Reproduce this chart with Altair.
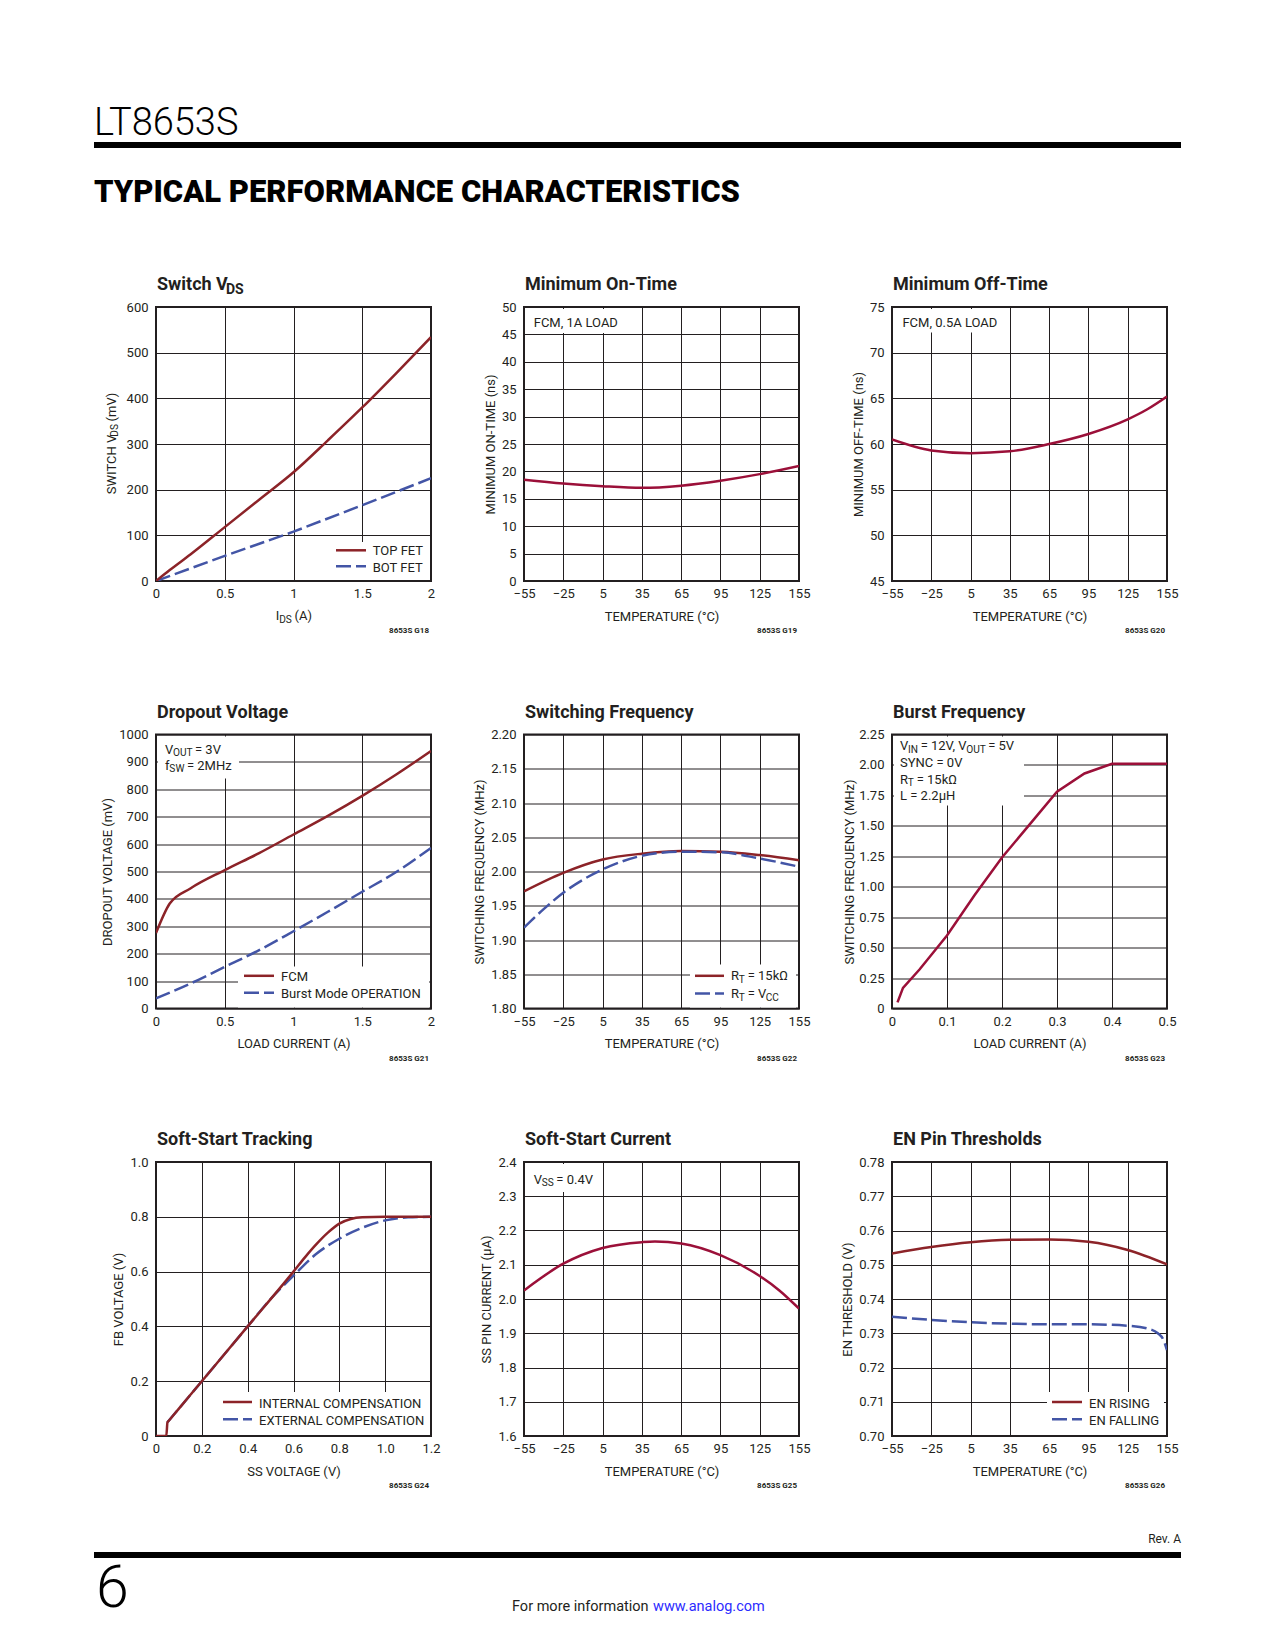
import altair as alt
import pandas as pd

FONT = "Roboto"
INK = "#231f20"
RED_A = "#8c2328"
RED_B = "#9b1039"
BLUE = "#4355a6"
LINK = "#2b2bff"
W, H = 275, 274
DASH = [15, 5]

# ---------------- data ----------------
TEMP_TICKS = [-55, -25, 5, 35, 65, 95, 125, 155]

# Switch VDS
vds_top_i = [0, 0.1, 0.25, 0.5, 0.75, 1.0, 1.25, 1.5, 1.75, 2.0]
vds_top = [0, 24, 58, 118, 178, 238, 308, 380, 456, 534]
vds_bot_i = [0, 0.5, 1.0, 1.5, 2.0]
vds_bot = [0, 55, 108, 166, 225]
vds_xticks = [0, 0.5, 1, 1.5, 2]
vds_yticks = [0, 100, 200, 300, 400, 500, 600]

# Minimum on-time
ton_t = [-55, -25, 5, 35, 65, 95, 125, 155]
ton = [18.5, 17.8, 17.3, 17.0, 17.4, 18.3, 19.5, 21.0]
ton_yticks = [0, 5, 10, 15, 20, 25, 30, 35, 40, 45, 50]

# Minimum off-time
toff_t = [-55, -25, 5, 35, 65, 95, 125, 140, 155]
toff = [60.5, 59.3, 59.0, 59.2, 60.0, 61.1, 62.7, 63.8, 65.2]
toff_yticks = [45, 50, 55, 60, 65, 70, 75]

# Dropout voltage
drop_fcm_i = [0, 0.1, 0.25, 0.5, 0.75, 1.0, 1.25, 1.5, 1.75, 2.0]
drop_fcm = [275, 383, 438, 505, 567, 635, 703, 776, 855, 940]
drop_burst_i = [0, 0.25, 0.5, 0.75, 1.0, 1.25, 1.5, 1.75, 2.0]
drop_burst = [37, 91, 152, 213, 282, 353, 426, 499, 586]
drop_yticks = [0, 100, 200, 300, 400, 500, 600, 700, 800, 900, 1000]

# Switching frequency
fsw_rt_t = [-55, -25, 5, 35, 65, 95, 125, 155]
fsw_rt = [1.971, 1.998, 2.0175, 2.026, 2.030, 2.029, 2.024, 2.0165]
fsw_vcc_t = [-55, -40, -25, -10, 5, 35, 65, 95, 125, 155]
fsw_vcc = [1.918, 1.945, 1.969, 1.988, 2.003, 2.023, 2.029, 2.028, 2.019, 2.007]
fsw_yticks = [1.80, 1.85, 1.90, 1.95, 2.00, 2.05, 2.10, 2.15, 2.20]

# Burst frequency
bf_i = [0.01, 0.02, 0.05, 0.1, 0.15, 0.2, 0.25, 0.3, 0.35, 0.4, 0.5]
bf = [0.05, 0.17, 0.32, 0.60, 0.93, 1.24, 1.51, 1.78, 1.93, 2.01, 2.01]
bf_xticks = [0, 0.1, 0.2, 0.3, 0.4, 0.5]
bf_yticks = [0, 0.25, 0.5, 0.75, 1.0, 1.25, 1.5, 1.75, 2.0, 2.25]

# Soft-start tracking
ss_int_v = [0, 0.045, 0.05, 0.055, 0.1, 0.2, 0.4, 0.6, 0.65, 0.7, 0.75, 0.8, 0.85, 0.9, 1.0, 1.2]
ss_int = [0, 0, 0.05, 0.055, 0.1, 0.2, 0.4, 0.6, 0.652, 0.70, 0.742, 0.775, 0.792, 0.798, 0.80, 0.80]
ss_ext_v = [0.05, 0.1, 0.2, 0.4, 0.5, 0.6, 0.7, 0.8, 0.9, 1.0, 1.1, 1.2]
ss_ext = [0.05, 0.1, 0.2, 0.4, 0.5, 0.585, 0.665, 0.72, 0.76, 0.787, 0.798, 0.80]
ss_xticks = [0, 0.2, 0.4, 0.6, 0.8, 1.0, 1.2]
ss_yticks = [0, 0.2, 0.4, 0.6, 0.8, 1.0]

# Soft-start current
ssc_t = [-55, -25, 5, 35, 45, 65, 95, 125, 140, 155]
ssc = [2.025, 2.103, 2.149, 2.166, 2.168, 2.162, 2.128, 2.067, 2.025, 1.972]
ssc_yticks = [1.6, 1.7, 1.8, 1.9, 2.0, 2.1, 2.2, 2.3, 2.4]

# EN pin thresholds
en_rise_t = [-55, -25, 5, 35, 65, 95, 125, 155]
en_rise = [0.7533, 0.7552, 0.7566, 0.7573, 0.7574, 0.7567, 0.7543, 0.7501]
en_fall_t = [-55, -25, 5, 35, 65, 95, 125, 140, 148, 152, 155]
en_fall = [0.7348, 0.7339, 0.7332, 0.7328, 0.7326, 0.7326, 0.7322, 0.7314, 0.7300, 0.7283, 0.7251]
en_yticks = [0.70, 0.71, 0.72, 0.73, 0.74, 0.75, 0.76, 0.77, 0.78]

# ---------------- font metrics (approx. Roboto advance widths, em) ----------------
CW = {" ": .25, "=": .55, ",": .20, ".": .26, "(": .34, ")": .35, "-": .28,
      "Ω": .66, "μ": .57, "°": .38}
for c in "0123456789":
    CW[c] = .56
CW.update(dict(A=.65, B=.62, C=.65, D=.66, E=.57, F=.55, G=.68, H=.71, I=.27, J=.55,
               K=.63, L=.54, M=.87, N=.71, O=.69, P=.63, Q=.69, R=.62, S=.59, T=.60,
               U=.65, V=.64, W=.89, X=.63, Y=.60, Z=.60))
CW.update(dict(a=.54, b=.56, c=.52, d=.56, e=.53, f=.35, g=.56, h=.55, i=.24, j=.24,
               k=.51, l=.24, m=.88, n=.55, o=.57, p=.56, q=.57, r=.34, s=.52, t=.33,
               u=.55, v=.48, w=.75, x=.50, y=.47, z=.50))


def tw(s, size, bold=False):
    return sum(CW.get(c, .56) for c in s) * size * (0.99 if bold else 0.96)


def one(t):
    return pd.DataFrame({"t": [t]})


def txt(t, x, y, size=13, weight="normal", color=INK, angle=0, align="left"):
    kw = dict(align=align, baseline="alphabetic", font=FONT, fontSize=size,
              fontWeight=weight, color=color)
    if angle:
        kw["angle"] = angle
    return alt.Chart(one(t)).mark_text(**kw).encode(
        text="t:N", x=alt.value(x), y=alt.value(y))


def rich(segs, x, y, size=13, weight="normal", angle=0, center=False):
    bold = weight == "bold"
    def fs(sub):
        return size * 0.78 if sub else size
    total = sum(tw(s[0], fs(s[1]), bold) for s in segs)
    pos = -total / 2 if center else 0
    out = []
    for seg in segs:
        s, sub = seg[0], seg[1]
        col = seg[2] if len(seg) > 2 else INK
        f = fs(sub)
        sh = size * 0.22 if sub else 0
        lead = len(s) - len(s.lstrip())
        pos += tw(" " * lead, f, bold)
        body = s.strip()
        if angle == 0:
            out.append(txt(body, x + pos, y + sh, f, weight, col))
        else:
            out.append(txt(body, x + sh, y - pos, f, weight, col, angle=270))
        pos += tw(s.lstrip(), f, bold)
    return out


def box(x1, x2, y1, y2, color="white", opacity=1):
    return alt.Chart(one("")).mark_rect(color=color, opacity=opacity).encode(
        x=alt.value(x1), x2=alt.value(x2), y=alt.value(y1), y2=alt.value(y2))


def sample(x1, x2, y, color, dash=None):
    kw = dict(color=color, strokeWidth=2.5)
    if dash:
        kw["strokeDash"] = dash
    return alt.Chart(one("")).mark_rule(**kw).encode(
        x=alt.value(x1), x2=alt.value(x2), y=alt.value(y))


def X(dom, vals, title=None, fmt=None, expr=None):
    ax = dict(values=vals, title=title)
    if title is not None:
        ax.update(titleX=W / 2, titleY=39, titleAlign="center",
                  titleBaseline="alphabetic", titleAngle=0)
    if fmt:
        ax["format"] = fmt
    if expr:
        ax["labelExpr"] = expr
    return alt.X("x:Q", scale=alt.Scale(domain=dom, nice=False, zero=False),
                 axis=alt.Axis(**ax))


def Y(dom, vals, title=None, d=40, fmt=None, expr=None):
    ax = dict(values=vals, title=title)
    if title is not None:
        ax.update(titleX=-d + 4.6, titleY=H / 2, titleAlign="center",
                  titleBaseline="alphabetic", titleAngle=270)
    if fmt:
        ax["format"] = fmt
    if expr:
        ax["labelExpr"] = expr
    return alt.Y("y:Q", scale=alt.Scale(domain=dom, nice=False, zero=False),
                 axis=alt.Axis(**ax))


def line(xs, ys, color, xe, ye, dash=None, interp="monotone"):
    kw = dict(color=color, strokeWidth=2.5, interpolate=interp, clip=True)
    if dash:
        kw["strokeDash"] = dash
    return alt.Chart(pd.DataFrame({"x": xs, "y": ys})).mark_line(**kw).encode(x=xe, y=ye)


def title(t):
    return txt(t, 1, -17, size=18, weight="bold")


def code(t):
    return txt(t, W - 2, H + 52, size=8, weight="bold", align="right")


def panel(*layers):
    flat = []
    for l in layers:
        if isinstance(l, list):
            flat.extend(l)
        else:
            flat.append(l)
    return alt.layer(*flat).properties(width=W, height=H)


TEMP_TITLE = "TEMPERATURE (°C)"
ZERO1 = "datum.value == 0 ? '0' : format(datum.value, '.1f')"
ZERO2 = "datum.value == 0 ? '0' : format(datum.value, '.2f')"

# ---- 1: Switch VDS (also carries page header) ----
xe, ye = X([0, 2], vds_xticks, fmt="~g"), Y([0, 600], vds_yticks)
p1 = panel(
    box(-147, -146, -298, -297, opacity=0),
    txt("LT8653S", -62, -172.5, size=38, weight=300, color="#000000"),
    box(-62, 1025, -165, -159, color="#000000"),
    txt("TYPICAL PERFORMANCE CHARACTERISTICS", -62, -105, size=31, weight=900, color="#000000"),
    box(172, 273, 235, 273),
    line(vds_bot_i, vds_bot, BLUE, xe, ye, dash=DASH, interp="linear"),
    line(vds_top_i, vds_top, RED_A, xe, ye, interp="monotone"),
    sample(180, 210, 243.3, RED_A), txt("TOP FET", 216.7, 248.3),
    sample(180, 210, 259.3, BLUE, DASH), txt("BOT FET", 216.7, 265),
    rich([("Switch V", 0), ("DS", 1)], 1, -17, size=18, weight="bold"),
    rich([("SWITCH V", 0), ("DS", 1), (" (mV)", 0)], -45 + 4.6, H / 2, angle=270, center=True),
    rich([("I", 0), ("DS", 1), (" (A)", 0)], W / 2, H + 39, center=True),
    code("8653S G18"),
)

# ---- 2: Minimum On-Time ----
xe, ye = X([-55, 155], TEMP_TICKS, TEMP_TITLE), Y([0, 50], ton_yticks, "MINIMUM ON-TIME (ns)", 34.3)
p2 = panel(
    box(2, 112, 2, 26),
    line(ton_t, ton, RED_B, xe, ye),
    txt("FCM, 1A LOAD", 9.7, 20),
    title("Minimum On-Time"), code("8653S G19"),
)

# ---- 3: Minimum Off-Time ----
xe, ye = X([-55, 155], TEMP_TICKS, TEMP_TITLE), Y([45, 75], toff_yticks, "MINIMUM OFF-TIME (ns)", 33.8)
p3 = panel(
    box(2, 113, 2, 25.5),
    line(toff_t, toff, RED_B, xe, ye),
    txt("FCM, 0.5A LOAD", 10.4, 20),
    title("Minimum Off-Time"), code("8653S G20"),
)

# ---- 4: Dropout Voltage ----
xe, ye = X([0, 2], vds_xticks, "LOAD CURRENT (A)", fmt="~g"), Y([0, 1000], drop_yticks, "DROPOUT VOLTAGE (mV)", 49.5, fmt="d")
p4 = panel(
    box(2, 83, 2, 44), box(82, 273, 232, 273),
    line(drop_burst_i, drop_burst, BLUE, xe, ye, dash=DASH),
    line(drop_fcm_i, drop_fcm, RED_A, xe, ye),
    rich([("V", 0), ("OUT", 1), (" = 3V", 0)], 9, 19),
    rich([("f", 0), ("SW", 1), (" = 2MHz", 0)], 9, 35),
    sample(88, 118, 241.3, RED_A), txt("FCM", 125, 246.6),
    sample(88, 118, 258.3, BLUE, DASH), txt("Burst Mode OPERATION", 125, 263.3),
    title("Dropout Voltage"), code("8653S G21"),
)

# ---- 5: Switching Frequency ----
xe, ye = X([-55, 155], TEMP_TICKS, TEMP_TITLE), Y([1.8, 2.2], fsw_yticks, "SWITCHING FREQUENCY (MHz)", 44.8, fmt=".2f")
p5 = panel(
    box(166, 272, 230, 273),
    line(fsw_rt_t, fsw_rt, RED_A, xe, ye),
    line(fsw_vcc_t, fsw_vcc, BLUE, xe, ye, dash=DASH),
    sample(171, 200, 241.3, RED_A),
    rich([("R", 0), ("T", 1), (" = 15kΩ", 0)], 207, 245.6),
    sample(171, 200, 259, BLUE, DASH),
    rich([("R", 0), ("T", 1), (" = V", 0), ("CC", 1)], 207, 263.3),
    title("Switching Frequency"), code("8653S G22"),
)

# ---- 6: Burst Frequency ----
xe, ye = X([0, 0.5], bf_xticks, "LOAD CURRENT (A)", fmt="~g"), Y([0, 2.25], bf_yticks, "SWITCHING FREQUENCY (MHz)", 43, expr=ZERO2)
p6 = panel(
    box(2, 132, 2, 71),
    line(bf_i, bf, RED_B, xe, ye, interp="linear"),
    rich([("V", 0), ("IN", 1), (" = 12V, V", 0), ("OUT", 1), (" = 5V", 0)], 8, 15.6),
    txt("SYNC = 0V", 8, 32.3),
    rich([("R", 0), ("T", 1), (" = 15kΩ", 0)], 8, 49),
    txt("L = 2.2μH", 8, 65.7),
    title("Burst Frequency"), code("8653S G23"),
)

# ---- 7: Soft-Start Tracking (also carries page footer) ----
xe, ye = X([0, 1.2], ss_xticks, "SS VOLTAGE (V)", expr=ZERO1), Y([0, 1.0], ss_yticks, "FB VOLTAGE (V)", 38, expr=ZERO1)
p7 = panel(
    box(60, 273, 230, 273),
    line(ss_ext_v, ss_ext, BLUE, xe, ye, dash=DASH),
    line(ss_int_v, ss_int, RED_A, xe, ye),
    sample(67, 96, 240, RED_A), txt("INTERNAL COMPENSATION", 103, 245.6),
    sample(67, 96, 257.3, BLUE, DASH), txt("EXTERNAL COMPENSATION", 103, 262.6),
    title("Soft-Start Tracking"), code("8653S G24"),
    txt("Rev. A", 1025, 381, size=12, align="right"),
    box(-62, 1025, 390, 396, color="#000000"),
    txt("6", -60, 445, size=59, weight=300, color="#000000"),
    txt("For more information", 356, 449, size=14.5),
    txt("www.analog.com", 497, 449, size=14.5, color=LINK),
)

# ---- 8: Soft-Start Current ----
xe, ye = X([-55, 155], TEMP_TICKS, TEMP_TITLE), Y([1.6, 2.4], ssc_yticks, "SS PIN CURRENT  (μA)", 38, fmt=".1f")
p8 = panel(
    box(2, 76, 2, 30),
    line(ssc_t, ssc, RED_B, xe, ye),
    rich([("V", 0), ("SS", 1), (" = 0.4V", 0)], 9.7, 21.6),
    title("Soft-Start Current"), code("8653S G25"),
)

# ---- 9: EN Pin Thresholds ----
xe, ye = X([-55, 155], TEMP_TICKS, TEMP_TITLE), Y([0.70, 0.78], en_yticks, "EN THRESHOLD (V)", 45.5, fmt=".2f")
p9 = panel(
    box(155, 272, 230, 273),
    line(en_fall_t, en_fall, BLUE, xe, ye, dash=DASH),
    line(en_rise_t, en_rise, RED_A, xe, ye),
    sample(160, 190, 240, RED_A), txt("EN RISING", 197, 245.6),
    sample(160, 190, 257.3, BLUE, DASH), txt("EN FALLING", 197, 262.6),
    title("EN Pin Thresholds"), code("8653S G26"),
)

chart = alt.concat(
    p1, p2, p3, p4, p5, p6, p7, p8, p9,
    columns=3, spacing={"row": 153.5, "column": 93}, bounds="flush",
).properties(padding=0, background="white").configure_view(
    stroke=INK, strokeWidth=2
).configure_axis(
    domain=False, ticks=False, tickSize=0, grid=True, gridColor=INK, gridWidth=1,
    gridOpacity=1, labelFont=FONT, labelFontSize=13, labelColor=INK,
    titleFont=FONT, titleFontSize=13, titleFontWeight="normal", titleColor=INK,
    labelFlush=False, labelOverlap=False, labelBound=False,
).configure_axisX(labelPadding=6.5).configure_axisY(labelPadding=8)

chart.save("out.html", embed_options={"renderer": "svg", "actions": False})
